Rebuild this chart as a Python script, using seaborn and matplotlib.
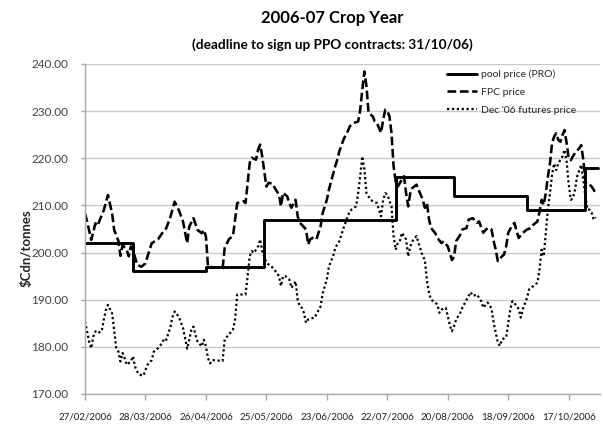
import matplotlib
matplotlib.use('Agg')
import matplotlib.pyplot as plt
import seaborn as sns
import pandas as pd

# ---------------- data ----------------
start_date = '2006-02-27'
tick_labels = ['27/02/2006', '28/03/2006', '26/04/2006', '25/05/2006', '23/06/2006',
               '22/07/2006', '20/08/2006', '18/09/2006', '17/10/2006']
y_ticks = [170, 180, 190, 200, 210, 220, 230, 240]

# pool price (PRO): step changes (days after 27/02/2006)
pool_day = [0, 23, 58, 86, 149, 177, 212, 240, 246]
pool_price = [202, 196, 197, 207, 216, 212, 209, 218, 218]

# FPC price (days after 27/02/2006)
fpc_day = [0, 1, 3, 5, 6, 9, 11, 13, 14, 16,
           17, 18, 20, 21, 22, 23, 25, 27, 29, 30,
           32, 35, 37, 39, 41, 43, 45, 47, 49, 50,
           52, 54, 56, 57, 58, 59, 66, 67, 69, 71,
           73, 76, 77, 79, 80, 82, 83, 84, 85, 87,
           88, 90, 91, 93, 94, 95, 97, 98, 99, 101,
           102, 103, 104, 106, 107, 108, 109, 111, 113, 114,
           116, 117, 120, 121, 122, 124, 126, 127, 129, 131,
           132, 133, 134, 135, 136, 138, 139, 140, 142, 143,
           144, 145, 146, 147, 148, 149, 150, 152, 153, 154,
           155, 156, 157, 159, 160, 162, 163, 164, 165, 166,
           168, 169, 171, 172, 174, 176, 177, 178, 180, 181,
           183, 184, 186, 188, 189, 191, 193, 195, 196, 197,
           198, 200, 201, 202, 203, 205, 206, 207, 208, 210,
           212, 214, 215, 217, 218, 219, 220, 221, 222, 223,
           224, 225, 226, 227, 228, 229, 230, 231, 232, 233,
           234, 235, 237, 238, 239, 240, 241, 242, 243, 244,
           245]
fpc_price = [208.3, 206.6, 202.7, 206.2, 205.7, 209.0, 212.2, 208.3, 204.8, 202.5,
             199.3, 201.6, 200.6, 199.2, 201.3, 200.6, 197.4, 197.0, 197.7, 199.2,
             202.0, 202.8, 204.1, 205.2, 207.6, 210.8, 209.0, 206.6, 202.0, 205.5,
             207.3, 204.8, 204.1, 204.8, 203.4, 197.0, 196.7, 201.0, 202.8, 203.6,
             210.5, 210.9, 210.5, 219.0, 220.1, 219.7, 221.8, 222.9, 220.4, 214.0,
             214.8, 214.6, 213.7, 212.3, 209.8, 212.7, 211.9, 210.5, 209.5, 211.2,
             207.7, 206.3, 205.9, 204.9, 201.7, 202.8, 203.1, 202.8, 205.6, 208.4,
             211.2, 213.4, 218.3, 219.7, 221.5, 224.0, 225.7, 226.8, 227.5, 227.8,
             230.3, 234.6, 238.4, 235.3, 229.6, 228.9, 227.8, 227.5, 225.4, 228.2,
             230.3, 230.0, 228.9, 225.4, 218.3, 215.1, 214.0, 215.5, 216.2, 212.6,
             209.8, 212.6, 213.7, 214.4, 213.3, 211.2, 209.5, 210.5, 207.0, 205.2,
             204.1, 203.1, 202.0, 202.4, 201.3, 198.4, 199.1, 202.4, 203.8, 204.9,
             205.2, 207.0, 207.3, 206.3, 206.6, 204.2, 205.2, 204.9, 202.4, 200.6,
             198.2, 199.2, 199.6, 201.3, 204.2, 205.9, 206.3, 204.5, 203.1, 204.2,
             204.9, 205.2, 205.9, 206.6, 208.7, 211.2, 210.1, 212.6, 216.1, 218.9,
             223.2, 224.6, 225.3, 223.9, 223.5, 224.9, 226.0, 223.2, 220.0, 219.6,
             220.4, 221.1, 222.1, 222.8, 219.6, 215.0, 214.4, 214.4, 214.0, 213.3,
             212.5]

# Dec '06 futures price (days after 27/02/2006)
fut_day = [0, 1, 2, 3, 4, 5, 6, 8, 9, 10,
           11, 13, 14, 15, 16, 17, 18, 19, 20, 22,
           23, 24, 25, 26, 28, 29, 30, 32, 33, 34,
           35, 37, 38, 39, 41, 42, 43, 45, 47, 48,
           49, 50, 51, 52, 53, 54, 56, 57, 58, 59,
           60, 61, 66, 67, 69, 71, 72, 73, 75, 77,
           78, 79, 80, 81, 83, 84, 85, 87, 88, 90,
           92, 93, 94, 95, 96, 98, 99, 101, 102, 103,
           104, 105, 106, 107, 109, 110, 111, 113, 114, 116,
           117, 119, 120, 122, 124, 126, 127, 129, 130, 131,
           132, 133, 134, 135, 137, 138, 140, 141, 142, 143,
           144, 145, 147, 148, 149, 150, 151, 152, 154, 155,
           156, 157, 159, 160, 162, 163, 164, 165, 166, 167,
           169, 170, 171, 173, 174, 175, 176, 177, 178, 180,
           181, 183, 185, 186, 188, 190, 191, 193, 194, 195,
           196, 197, 198, 199, 200, 202, 203, 204, 205, 207,
           208, 209, 210, 212, 213, 215, 217, 218, 219, 220,
           221, 222, 223, 224, 225, 226, 227, 229, 230, 231,
           232, 233, 234, 235, 236, 238, 239, 240, 241, 242,
           243, 244, 245]
fut_price = [185.4, 183.3, 181.1, 179.7, 182.2, 183.3, 182.9, 183.3, 185.7, 187.8,
             188.9, 187.1, 183.5, 179.7, 179.0, 176.9, 178.7, 177.6, 176.2, 176.9,
             178.0, 175.8, 174.8, 174.1, 173.9, 175.1, 176.2, 177.2, 179.0, 179.4,
             179.7, 180.8, 181.8, 181.5, 184.3, 186.4, 187.5, 186.4, 184.0, 181.8,
             179.6, 181.5, 183.6, 184.3, 182.5, 181.1, 180.1, 181.5, 180.1, 177.6,
             176.5, 177.2, 177.0, 181.6, 182.6, 183.7, 185.8, 191.1, 191.1, 191.1,
             195.0, 199.2, 200.3, 199.9, 201.3, 202.8, 200.3, 197.8, 197.5, 196.8,
             195.7, 195.0, 192.9, 195.0, 195.0, 194.3, 192.5, 193.9, 190.0, 188.6,
             188.3, 187.2, 185.1, 185.8, 186.1, 186.1, 186.9, 188.6, 191.4, 194.3,
             197.1, 199.2, 201.0, 202.4, 205.2, 207.7, 208.8, 209.5, 209.8, 212.6,
             216.2, 220.4, 217.6, 212.6, 211.2, 210.9, 210.5, 209.1, 207.7, 211.2,
             212.6, 212.3, 209.8, 203.5, 200.6, 202.0, 202.4, 204.2, 202.8, 199.2,
             201.3, 202.4, 203.5, 202.0, 199.2, 198.5, 194.0, 191.4, 190.0, 189.7,
             189.0, 187.2, 187.9, 188.3, 186.5, 184.5, 183.3, 184.4, 185.8, 187.2,
             188.3, 190.0, 191.6, 190.8, 191.1, 189.7, 188.3, 189.4, 189.0, 188.0,
             185.1, 183.0, 180.9, 180.2, 181.6, 182.0, 185.1, 188.0, 189.7, 188.7,
             188.0, 186.2, 188.0, 190.4, 192.2, 192.9, 193.6, 196.4, 200.6, 199.2,
             204.2, 209.1, 212.6, 216.5, 218.9, 217.5, 218.9, 220.4, 221.8, 219.3,
             214.5, 211.2, 211.5, 213.3, 216.1, 218.6, 215.4, 211.9, 209.1, 209.1,
             208.4, 207.0, 207.5]

series_labels = ['pool price (PRO)', 'FPC price', "Dec '06 futures price"]
title_text = '2006-07 Crop Year'
subtitle_text = '(deadline to sign up PPO contracts: 31/10/06)'
ylabel_text = '\\$Cdn/tonnes'

# ---------------- build ----------------
t0 = pd.Timestamp(start_date)
to_dates = lambda d: t0 + pd.to_timedelta(d, unit='D')
pool_df = pd.DataFrame({'date': to_dates(pool_day), 'price': pool_price})
fpc_df = pd.DataFrame({'date': to_dates(fpc_day), 'price': fpc_price})
fut_df = pd.DataFrame({'date': to_dates(fut_day), 'price': fut_price})
tick_dates = pd.to_datetime(tick_labels, format='%d/%m/%Y')

sns.set_style('white')
plt.rcParams['font.family'] = ['Lato', 'DejaVu Sans']

W, H = 603, 428
fig = plt.figure(figsize=(W / 100, H / 100), dpi=100)
ax = fig.add_axes([85 / W, 1 - 394 / H, (600 - 85) / W, (394 - 64) / H])

sns.lineplot(data=pool_df, x='date', y='price', ax=ax, color='black', lw=2.1,
             drawstyle='steps-post', estimator=None, label=series_labels[0])
sns.lineplot(data=fpc_df, x='date', y='price', ax=ax, color='black', lw=1.85,
             linestyle=(0, (3.4, 1.4)), estimator=None, label=series_labels[1])
sns.lineplot(data=fut_df, x='date', y='price', ax=ax, color='black', lw=1.6,
             linestyle=(0, (1, 1.2)), estimator=None, label=series_labels[2])

ax.set_xlim(t0, t0 + pd.Timedelta(days=247))
ax.set_ylim(170, 240)
ax.set_xticks(tick_dates)
ax.set_xticklabels(tick_labels)
ax.set_yticks(y_ticks)
ax.set_yticklabels([f'{v:.2f}' for v in y_ticks])
ax.set_xlabel('')
ax.set_ylabel('')

ax.yaxis.grid(True, color='#c9c9c9', lw=1.0)
ax.xaxis.grid(False)
ax.set_axisbelow(True)
for s in ['top', 'right']:
    ax.spines[s].set_visible(False)
for s in ['left', 'bottom']:
    ax.spines[s].set_color('#a8a8a8')
    ax.spines[s].set_linewidth(1.0)

ax.tick_params(axis='y', which='major', direction='out', length=3, width=1,
               color='#a8a8a8', labelsize=8.5, labelcolor='#404040', pad=9, left=True)
ax.tick_params(axis='x', which='major', direction='out', length=4, width=1,
               color='#a8a8a8', labelsize=7, labelcolor='#1f1f1f', pad=9, bottom=True)

handles, labels = ax.get_legend_handles_labels()
ax.legend(handles, labels, loc='upper left', bbox_to_anchor=((447 - 85) / 515, 0.982),
          frameon=False, fontsize=7.5, handlelength=2.9, handletextpad=0.35,
          labelspacing=0.8, borderaxespad=0, borderpad=0)

fig.text(332 / W, 1 - 18 / H, title_text, ha='center', va='center',
         fontsize=12, fontweight='bold', color='black')
fig.text(332 / W, 1 - 45 / H, subtitle_text, ha='center', va='center',
         fontsize=9.8, fontweight='bold', color='black')
fig.text(27 / W, 1 - 248 / H, ylabel_text, rotation=90, ha='center', va='center',
         fontsize=9.5, fontweight='bold', color='#262626')

fig.savefig('out.png', dpi=100, facecolor='white')
